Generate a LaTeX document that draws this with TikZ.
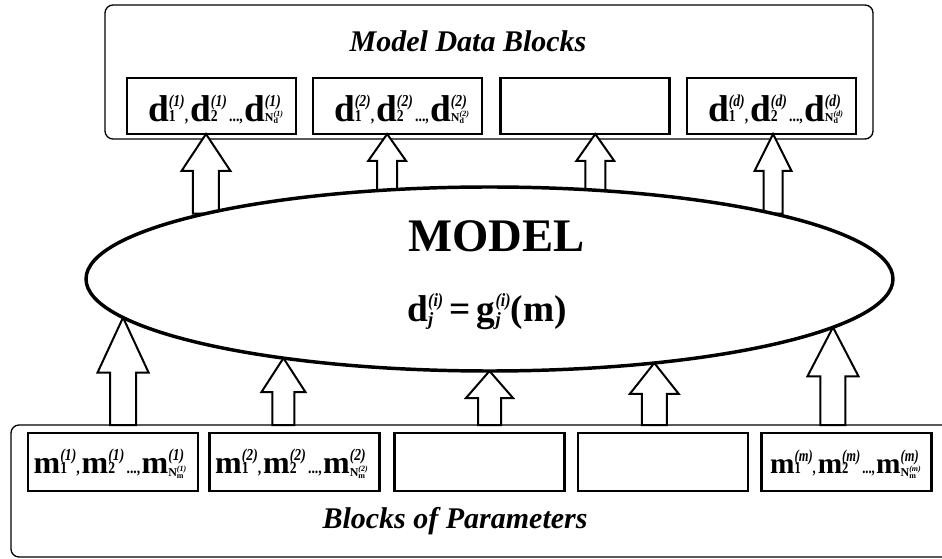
\documentclass[tikz,border=0pt]{standalone}
\usepackage{fontspec}
\usepackage{graphicx}
\setmainfont{Liberation Serif}
\usetikzlibrary{shapes.geometric,calc}

% a superscript stacked over a subscript, as wide as the wider of the two
\newcommand\supsub[3][12.5pt]{%
  \setbox0\hbox{#2}\setbox2\hbox{#3}%
  \dimen0=\wd0 \ifdim\wd2>\dimen0 \dimen0=\wd2 \fi
  \rlap{\raise#1\box0}\rlap{\box2}\kern\dimen0\relax}

\newcommand\TinyF{\fontsize{6}{7}\selectfont\bfseries}
\newcommand\NF{\fontsize{9}{9}\selectfont\bfseries\upshape N}

% #1 letter size, #2 script size, #3 superscript raise, #4 letter, #5 block index, #6 drop of N, #7 script width factor
\newcommand\blockseq[7]{%
  \def\Lt{{\fontsize{#1}{#1}\selectfont\bfseries #4}}%
  \def\SupT{\scalebox{#7}[1]{\fontsize{#2}{#2}\selectfont\bfseries\itshape(#5)}}%
  \def\SubT##1{\scalebox{#7}[1]{\fontsize{#2}{#2}\selectfont\bfseries\upshape ##1}}%
  \Lt\supsub[#3]{\SupT}{\SubT{1}}\SubT{,}\kern1.5pt
  \Lt\supsub[#3]{\SupT}{\SubT{2}}\SubT{\,...,}\kern1pt
  \Lt\supsub[#3]{\SupT}{\lower#6\hbox{\NF\supsub[4pt]{\TinyF\itshape(#5)}{\lower1.5pt\hbox{\TinyF #4}}}}}

% hollow upward block arrow: #1 gives x, #2 tail, #3 tip,
% #4 head half-width, #5 shaft half-width, #6 head length (all in px)
\newcommand\blockarrow[6]{%
  \draw[arrowshape] let \p1=(#1), \p2=(#2), \p3=(#3) in
    (\x1-#5*0.75pt,\y2) -- (\x1-#5*0.75pt,\y3-#6*0.75pt)
    -- (\x1-#4*0.75pt,\y3-#6*0.75pt) -- (\x1,\y3)
    -- (\x1+#4*0.75pt,\y3-#6*0.75pt) -- (\x1+#5*0.75pt,\y3-#6*0.75pt)
    -- (\x1+#5*0.75pt,\y2) -- cycle;}

% relation scripts
\newcommand\RelSup{\scalebox{.85}[1]{\fontsize{14}{14}\selectfont\bfseries\itshape(i)}}
\newcommand\RelSub{\lower3pt\hbox{\fontsize{14}{14}\selectfont\bfseries\itshape j}}
\newcommand\RelF{\fontsize{28}{28}\selectfont\bfseries}

\begin{document}
\begin{tikzpicture}[x=0.75pt,y=-0.75pt,
  container/.style={draw,line width=1pt,rounded corners=6pt,rectangle,inner sep=0pt,outer sep=0pt},
  datablock/.style={draw,line width=2pt,rectangle,minimum width=126.75pt,minimum height=42pt,inner sep=0pt,outer sep=0pt},
  parblock/.style={draw,line width=2pt,rectangle,minimum width=127.5pt,minimum height=43.5pt,inner sep=0pt,outer sep=0pt},
  arrowshape/.style={draw,fill=white,line width=1.5pt,line join=miter},
  heading/.style={anchor=base,inner sep=0pt,font=\fontsize{22.5}{24}\selectfont\bfseries\itshape},
  seq/.style={anchor=base,inner sep=0pt}]

\useasboundingbox[fill=white] (0,0) rectangle (942,559);

% outer frames
\node[container,minimum width=576pt,minimum height=100.5pt] (dblk) at (489,72) {};
\node[container,minimum width=704.25pt,minimum height=99pt] (pblk) at (480.5,491) {};

% data blocks
\node[datablock] (d1) at (211.5,106) {};
\node[datablock] (d2) at (397.5,106) {};
\node[datablock] (d3) at (585,106) {};
\node[datablock] (d4) at (771.5,106) {};

% parameter blocks
\node[parblock] (p1) at (113,462) {};
\node[parblock] (p2) at (294.5,462) {};
\node[parblock] (p3) at (479.5,462) {};
\node[parblock] (p4) at (663,462) {};
\node[parblock] (p5) at (846.5,462) {};

% the model
\node[ellipse,minimum width=605.25pt,minimum height=138pt,inner sep=0pt,outer sep=0pt] (ell) at (489.5,279) {};

% arrows from the model up to the data blocks
\blockarrow{ell.167.94}{ell.167.94}{d1.south}{24.5}{13}{37}
\blockarrow{ell.139.34}{ell.139.34}{d2.south}{19}{10}{27}
\blockarrow{ell.40.39}{ell.40.39}{d3.south}{19}{10}{27}
\blockarrow{ell.13.09}{ell.13.09}{d4.south}{18.5}{9.5}{37}

% arrows from the parameter frame up to the model
\blockarrow{ell.186.0}{pblk.north}{ell.186.0}{25.5}{13}{55}
\blockarrow{ell.201.98}{pblk.north}{ell.201.98}{22}{11}{34}
\blockarrow{ell.270}{pblk.north}{ell.270}{23.5}{11.5}{27}
\blockarrow{ell.333.77}{pblk.north}{ell.333.77}{24.5}{12.5}{31}
\blockarrow{ell.352.42}{pblk.north}{ell.352.42}{25.5}{12.5}{49}

\draw[line width=2.6pt,fill=white] (ell.center) ellipse [x radius=302.6pt,y radius=69pt];

% titles
\node[heading] (dtitle) at (468,52) {Model Data Blocks};
\node[heading] (ptitle) at (455,528) {Blocks of Parameters};

% model label and relation
\node[anchor=base,inner sep=0pt,font=\fontsize{35}{36}\selectfont\bfseries] (mlabel) at (496.5,251.7) {MODEL};
\node[anchor=base,inner sep=0pt] (rel) at (487,321.7) {{\RelF d}\supsub[11.5pt]{\RelSup}{\RelSub}{\RelF\,=\,g}\supsub[11.5pt]{\RelSup}{\RelSub}{\RelF(m)}};

% block contents
\node[seq] (d1t) at ($(d1.south)+(4,-12.3)$) {\blockseq{28}{12.5}{11.5pt}{d}{1}{0pt}{.82}};
\node[seq] (d2t) at ($(d2.south)+(4,-12.3)$) {\blockseq{28}{12.5}{11.5pt}{d}{2}{0pt}{.82}};
\node[seq] (d4t) at ($(d4.south)+(4,-12.3)$) {\blockseq{28}{12.5}{11.5pt}{d}{d}{0pt}{.82}};

\node[seq] (p1t) at ($(p1.south)+(-3,-18)$) {\blockseq{24}{12.5}{9.5pt}{m}{1}{2.5pt}{.82}};
\node[seq] (p2t) at ($(p2.south)+(-3,-18)$) {\blockseq{24}{12.5}{9.5pt}{m}{2}{2.5pt}{.82}};
\node[seq] (p5t) at ($(p5.south)+(-1,-18)$) {\blockseq{22}{12.5}{9pt}{m}{m}{2.5pt}{.75}};
\end{tikzpicture}
\end{document}
